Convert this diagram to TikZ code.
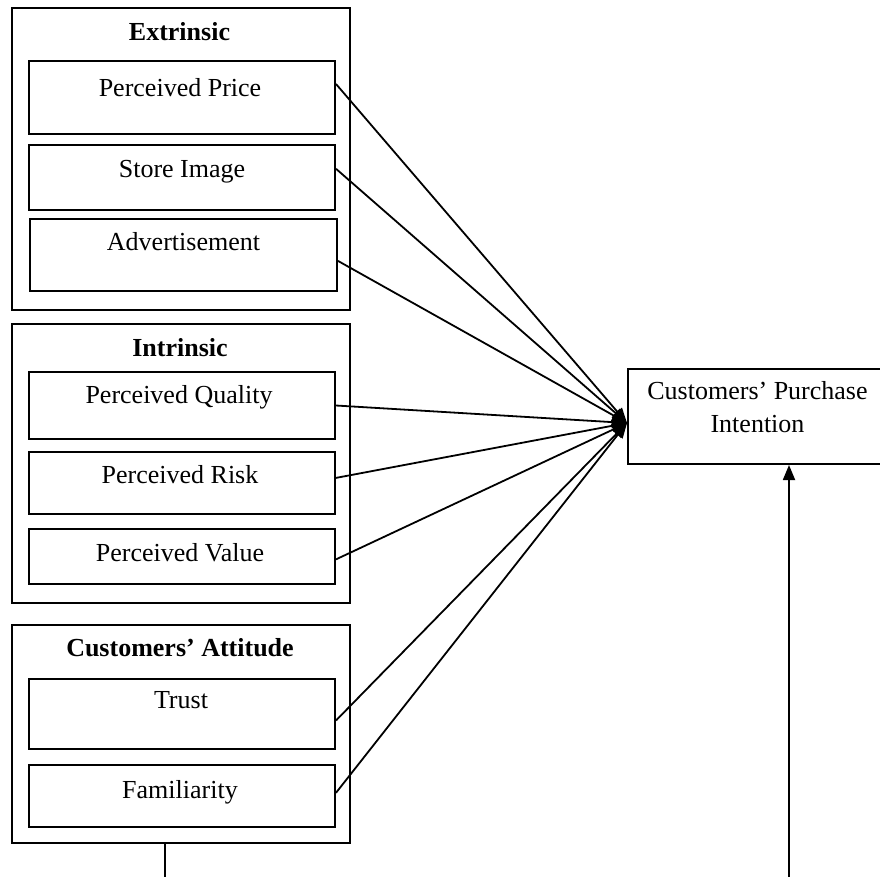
\documentclass[tikz,border=0pt]{standalone}
\usepackage{fontspec}
\setmainfont{Liberation Serif}
\usetikzlibrary{arrows.meta,calc}

\begin{document}
\begin{tikzpicture}[x=1pt,y=-1pt,
  groupbox/.style={draw,line width=2pt,fill=white,minimum width=338pt,
    anchor=north west,inner sep=0pt},
  itembox/.style={draw,line width=2pt,fill=white,minimum width=306pt,
    anchor=north west,inner sep=0pt},
  txt/.style={font=\fontsize{26}{32}\selectfont,anchor=base,inner sep=0pt},
  ttl/.style={font=\bfseries\fontsize{26}{32}\selectfont,anchor=base,inner sep=0pt},
  conn/.style={line width=1.8pt,-{Triangle[length=15pt,width=12pt]}}]

\useasboundingbox (0,0) rectangle (880,876);

% Extrinsic group
\node[groupbox,minimum height=302pt] (ext) at (11,7) {};
\node[ttl] (ext-t) at ($(ext.north)+(-1.5,33)$) {Extrinsic};
\node[itembox,minimum height=73pt] (pp) at (28,60) {};
\node[txt] (pp-t) at ($(pp.north)+(-2,36.5)$) {Perceived Price};
\node[itembox,minimum height=65pt] (si) at (28,144) {};
\node[txt] (si-t) at ($(si.north)+(0,33)$) {Store Image};
\node[itembox,minimum width=307pt,minimum height=72pt] (ad) at (29,218) {};
\node[txt] (ad-t) at ($(ad.north)+(0,32)$) {Advertisement};

% Intrinsic group
\node[groupbox,minimum height=279pt] (int) at (11,323) {};
\node[ttl] (int-t) at ($(int.north)+(-1,33)$) {Intrinsic};
\node[itembox,minimum height=67pt] (pq) at (28,371) {};
\node[txt] (pq-t) at ($(pq.north)+(-3,32)$) {Perceived Quality};
\node[itembox,minimum height=62pt] (pr) at (28,451) {};
\node[txt] (pr-t) at ($(pr.north)+(-2,32)$) {Perceived Risk};
\node[itembox,minimum height=55pt] (pv) at (28,528) {};
\node[txt] (pv-t) at ($(pv.north)+(-2,33)$) {Perceived Value};

% Attitude group
\node[groupbox,minimum height=218pt] (att) at (11,624) {};
\node[ttl] (att-t) at ($(att.north)+(-1,32)$) {Customers’ Attitude};
\node[itembox,minimum height=70pt] (tr) at (28,678) {};
\node[txt] (tr-t) at ($(tr.north)+(-1,30)$) {Trust};
\node[itembox,minimum height=62pt] (fa) at (28,764) {};
\node[txt] (fa-t) at ($(fa.north)+(-2,34)$) {Familiarity};

% Outcome
\node[draw,line width=2pt,fill=white,minimum width=259pt,minimum height=95pt,
  anchor=north west,inner sep=0pt] (pi) at (627,368) {};
\node[txt] (pi-t1) at ($(pi.north)+(0,31)$) {Customers’ Purchase};
\node[txt] (pi-t2) at ($(pi.north)+(0,64)$) {Intention};

% Converging connectors
\coordinate (hub) at ($(pi.west)+(0,6.5)$);
\draw[conn] ($(pp.north east)!0.32!(pp.south east)$) -- (hub);
\draw[conn] ($(si.north east)!0.37!(si.south east)$) -- (hub);
\draw[conn] ($(ad.north east)!0.58!(ad.south east)$) -- (hub);
\draw[conn] ($(pq.north east)!0.5!(pq.south east)$) -- (hub);
\draw[conn] ($(pr.north east)!0.42!(pr.south east)$) -- (hub);
\draw[conn] ($(pv.north east)!0.55!(pv.south east)$) -- (hub);
\draw[conn] ($(tr.north east)!0.59!(tr.south east)$) -- (hub);
\draw[conn] ($(fa.north east)!0.45!(fa.south east)$) -- (hub);

% Link from the attitude group running off the bottom edge
\coordinate (attout) at ($(att.south west)!0.453!(att.south east)$);
\coordinate (botL) at ($(attout)+(0,40)$);
\coordinate (piin) at ($(pi.south)+(31.5,0)$);
\coordinate (botR) at ($(piin)+(0,420)$);
\draw[line width=1.8pt] (attout) -- (botL);
\draw[conn] (botR) -- (piin);
\end{tikzpicture}
\end{document}
